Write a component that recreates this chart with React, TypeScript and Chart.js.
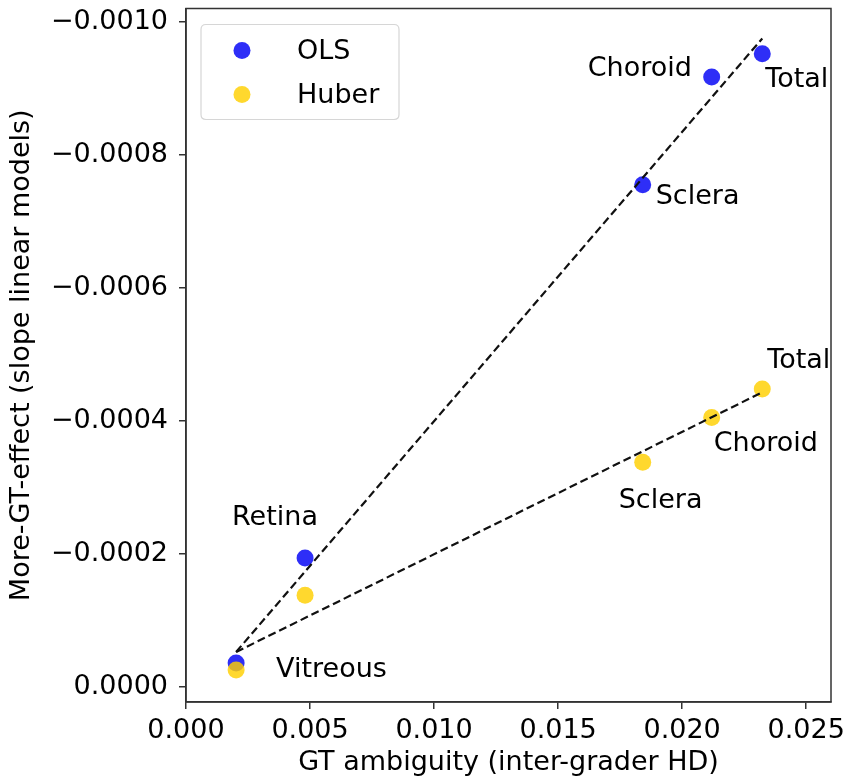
import React, { useEffect, useRef } from "react";
import { Chart, registerables } from "chart.js";

Chart.register(...registerables);

// ---- data ----
const regions = ["Vitreous", "Retina", "Sclera", "Choroid", "Total"];
const gtAmbiguity = [0.00202, 0.0048, 0.01841, 0.02119, 0.02323];
const olsSlope = [-0.0000361, -0.000194, -0.000755, -0.000917, -0.000952];
const huberSlope = [-0.0000256, -0.000138, -0.000338, -0.000405, -0.000448];
const fitX = [0.00202, 0.02323];
const olsFitY = [-0.0000526, -0.000975];
const huberFitY = [-0.0000526, -0.000443];
const xTicks = [0, 0.005, 0.01, 0.015, 0.02, 0.025];
const yTicks = [0, -0.0002, -0.0004, -0.0006, -0.0008, -0.001];
const olsLabels = ["Vitreous", "Retina", "Sclera", "Choroid", "Total"];
const huberLabels = ["", "", "Sclera", "Choroid", "Total"];

// ---- styles (label offsets in px from point: [dx, dy-to-baseline]) ----
const olsLabelOffsets = [[40, 14], [-73, -33], [13, 19], [-124, -1], [3, 33]];
const huberLabelOffsets = [[0, 0], [0, 0], [-24, 46], [2, 33], [5, -21]];

const FONT = "DejaVu Sans";
const FS = 27;
const BLUE = "rgba(0,0,245,0.82)";
const YELLOW = "rgba(255,208,0,0.82)";
const AXIS = "#333333";

const annotatePlugin = {
  id: "annotate",
  afterDatasetsDraw(chart: any) {
    const { ctx, chartArea, scales } = chart;
    const xs = scales.x;
    const ys = scales.y;
    ctx.save();
    ctx.font = `${FS}px "${FONT}"`;
    ctx.fillStyle = "#000";
    ctx.textAlign = "left";
    ctx.textBaseline = "alphabetic";
    const draw = (vals: number[], labels: string[], offs: number[][]) => {
      vals.forEach((v, i) => {
        if (!labels[i]) return;
        const px = xs.getPixelForValue(gtAmbiguity[i]);
        const py = ys.getPixelForValue(v);
        ctx.fillText(labels[i], px + offs[i][0], py + offs[i][1]);
      });
    };
    draw(olsSlope, olsLabels, olsLabelOffsets);
    draw(huberSlope, huberLabels, huberLabelOffsets);

    // frame
    ctx.strokeStyle = AXIS;
    ctx.lineWidth = 1.5;
    ctx.strokeRect(chartArea.left, chartArea.top, chartArea.right - chartArea.left, chartArea.bottom - chartArea.top);

    // legend
    const lx = chartArea.left + 15;
    const ly = chartArea.top + 16;
    const lw = 198;
    const lh = 95;
    ctx.beginPath();
    const r = 5;
    ctx.moveTo(lx + r, ly);
    ctx.lineTo(lx + lw - r, ly);
    ctx.quadraticCurveTo(lx + lw, ly, lx + lw, ly + r);
    ctx.lineTo(lx + lw, ly + lh - r);
    ctx.quadraticCurveTo(lx + lw, ly + lh, lx + lw - r, ly + lh);
    ctx.lineTo(lx + r, ly + lh);
    ctx.quadraticCurveTo(lx, ly + lh, lx, ly + lh - r);
    ctx.lineTo(lx, ly + r);
    ctx.quadraticCurveTo(lx, ly, lx + r, ly);
    ctx.closePath();
    ctx.fillStyle = "rgba(255,255,255,0.8)";
    ctx.fill();
    ctx.strokeStyle = "#d6d6d6";
    ctx.lineWidth = 1.2;
    ctx.stroke();
    const items = chart.data.datasets.filter((d: any) => !d.isFit);
    items.forEach((d: any, i: number) => {
      const cy = ly + 26 + i * 44;
      ctx.beginPath();
      ctx.arc(lx + 41, cy, 8.5, 0, Math.PI * 2);
      ctx.fillStyle = d.backgroundColor;
      ctx.fill();
      ctx.fillStyle = "#000";
      ctx.fillText(d.label, lx + 96, cy + 8);
    });
    ctx.restore();
  },
};

const zeroPad = (s: any) => {
  s.paddingLeft = 0;
  s.paddingRight = 0;
  s.paddingTop = 0;
  s.paddingBottom = 0;
};

export default function App() {
  const ref = useRef<HTMLCanvasElement | null>(null);
  useEffect(() => {
    if (!ref.current) return;
    const chart = new Chart(ref.current, {
      type: "scatter",
      data: {
        datasets: [
          {
            label: "OLS",
            data: gtAmbiguity.map((x, i) => ({ x, y: olsSlope[i] })),
            backgroundColor: BLUE,
            borderWidth: 0,
            pointRadius: 8.5,
            order: 2,
          } as any,
          {
            label: "Huber",
            data: gtAmbiguity.map((x, i) => ({ x, y: huberSlope[i] })),
            backgroundColor: YELLOW,
            borderWidth: 0,
            pointRadius: 8.5,
            order: 1,
          } as any,
          {
            label: "OLS fit",
            isFit: true,
            data: fitX.map((x, i) => ({ x, y: olsFitY[i] })),
            showLine: true,
            borderColor: "#111",
            borderWidth: 2.2,
            borderDash: [8, 4],
            pointRadius: 0,
            order: 0,
          } as any,
          {
            label: "Huber fit",
            isFit: true,
            data: fitX.map((x, i) => ({ x, y: huberFitY[i] })),
            showLine: true,
            borderColor: "#111",
            borderWidth: 2.2,
            borderDash: [8, 4],
            pointRadius: 0,
            order: 0,
          } as any,
        ],
      },
      options: {
        animation: false,
        responsive: false,
        devicePixelRatio: 1,
        layout: { padding: { left: 0, top: 7, right: 17, bottom: 0 } },
        plugins: { legend: { display: false }, tooltip: { enabled: false } },
        scales: {
          x: {
            type: "linear",
            min: 0,
            max: 0.026,
            afterBuildTicks: (s: any) => {
              s.ticks = xTicks.map((v) => ({ value: v }));
            },
            afterFit: (s: any) => {
              s.height = 82;
              zeroPad(s);
            },
            ticks: {
              font: { family: FONT, size: FS },
              color: "#000",
              padding: 6,
              maxRotation: 0,
              autoSkip: false,
              callback: (v: any) => Number(v).toFixed(3),
            },
            grid: { display: true, drawOnChartArea: false, drawTicks: true, tickLength: 7, color: AXIS, lineWidth: 1.5 },
            border: { display: true, color: AXIS, width: 1.5 },
            title: {
              display: true,
              text: "GT ambiguity (inter-grader HD)",
              font: { family: FONT, size: FS },
              color: "#000",
              padding: { top: 0, bottom: 5 },
            },
          },
          y: {
            type: "linear",
            reverse: true,
            min: -0.00102,
            max: 0.0000226,
            afterBuildTicks: (s: any) => {
              s.ticks = yTicks.map((v) => ({ value: v }));
            },
            afterFit: (s: any) => {
              s.width = 186;
              zeroPad(s);
            },
            ticks: {
              font: { family: FONT, size: FS },
              color: "#000",
              padding: 11,
              autoSkip: false,
              callback: (v: any) => {
                const n = Number(v);
                return (n < -1e-12 ? "\u2212" : "") + Math.abs(n).toFixed(4);
              },
            },
            grid: { display: true, drawOnChartArea: false, drawTicks: true, tickLength: 7, color: AXIS, lineWidth: 1.5 },
            border: { display: true, color: AXIS, width: 1.5 },
            title: {
              display: true,
              text: "More-GT-effect (slope linear models)",
              font: { family: FONT, size: FS },
              color: "#000",
              padding: { top: 6, bottom: 0 },
            },
          },
        },
      },
      plugins: [annotatePlugin],
    } as any);
    return () => chart.destroy();
  }, []);
  return (
    <div style={{ position: "absolute", left: 0, top: 0, width: 848, height: 784, background: "#fff" }}>
      <canvas ref={ref} width={848} height={784} style={{ display: "block" }} />
    </div>
  );
}
